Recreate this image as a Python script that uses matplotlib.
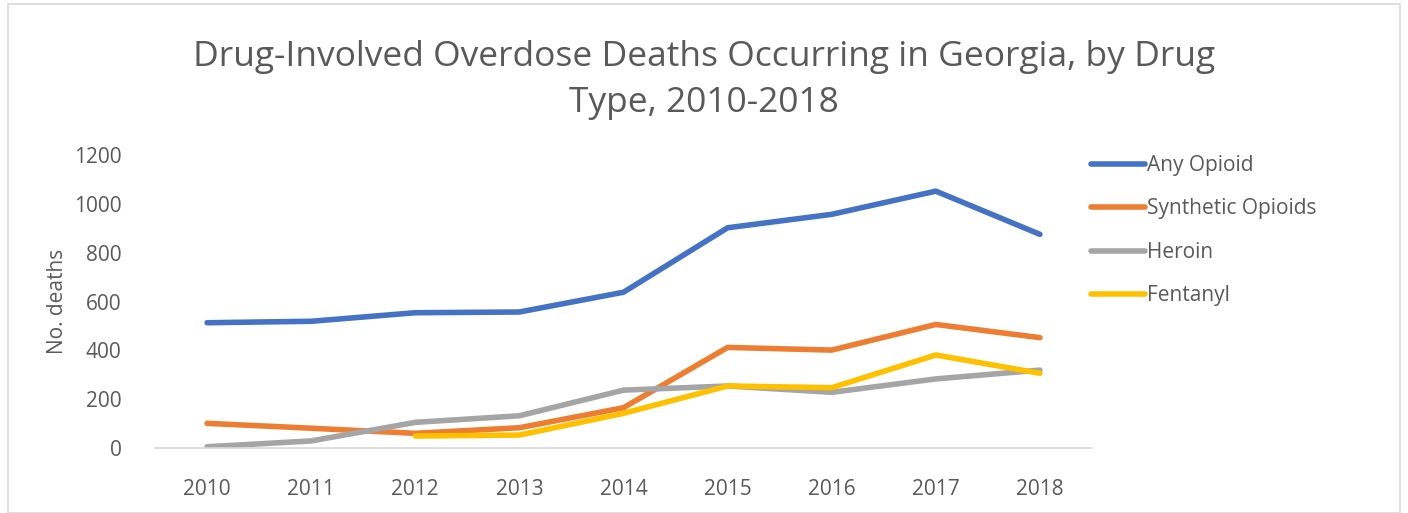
import numpy as np
import matplotlib.pyplot as plt
from matplotlib.patches import Rectangle

years = ["2010", "2011", "2012", "2013", "2014", "2015", "2016", "2017", "2018"]
any_opioid = [513, 519, 554, 557, 638, 902, 957, 1052, 875]
synthetic = [101, 81, 60, 83, 165, 412, 401, 506, 452]
heroin = [5, 29, 105, 132, 237, 254, 228, 283, 319]
fentanyl = [None, None, 49, 53, 142, 254, 247, 381, 306]

series = [
    ("Any Opioid", any_opioid, "#4472C4"),
    ("Synthetic Opioids", synthetic, "#ED7D31"),
    ("Heroin", heroin, "#A5A5A5"),
    ("Fentanyl", fentanyl, "#FFC000"),
]

text_color = "#595959"
plt.rcParams['font.family'] = ['Open Sans', 'DejaVu Sans']

fig = plt.figure(figsize=(14.08, 5.13), dpi=100)
# chart border
fig.patches.append(Rectangle((8 / 1408, 0.0), 1392 / 1408, 1 - 4 / 513, transform=fig.transFigure,
                             fill=False, edgecolor="#D9D9D9", linewidth=1.2))

ax = fig.add_axes([155 / 1408, (513 - 448) / 513, (1092 - 155) / 1408, (448 - 155) / 513])
x = np.arange(len(years))
for name, vals, color in series:
    y = np.array([np.nan if v is None else v for v in vals], dtype=float)
    ax.plot(x, y, color=color, lw=4, label=name, solid_capstyle="round", solid_joinstyle="round")

ax.set_xlim(-0.5, len(years) - 0.5)
ax.set_ylim(0, 1200)
ax.set_yticks(range(0, 1201, 200))
ax.set_xticks(x)
ax.set_xticklabels(years)
for s in ["top", "right", "left"]:
    ax.spines[s].set_visible(False)
ax.spines["bottom"].set_color("#D9D9D9")
ax.spines["bottom"].set_linewidth(1.2)
ax.tick_params(axis="both", length=0, labelsize=15, labelcolor=text_color)
ax.tick_params(axis="x", pad=22)
ax.tick_params(axis="y", pad=24)
ax.set_ylabel("No. deaths", fontsize=15, color=text_color)
ax.yaxis.set_label_coords(-0.093, 0.5)

fig.text(0.5, 1 - 80 / 513, "Drug-Involved Overdose Deaths Occurring in Georgia, by Drug\nType, 2010-2018",
         ha="center", va="center", fontsize=25.5, color=text_color, linespacing=1.45)

leg = ax.legend(loc="upper left", bbox_to_anchor=(0.979, 1.064), frameon=False, fontsize=15,
                handlelength=2.6, handletextpad=0.1, labelspacing=1.08, labelcolor=text_color)

fig.savefig("out.png", dpi=100)
